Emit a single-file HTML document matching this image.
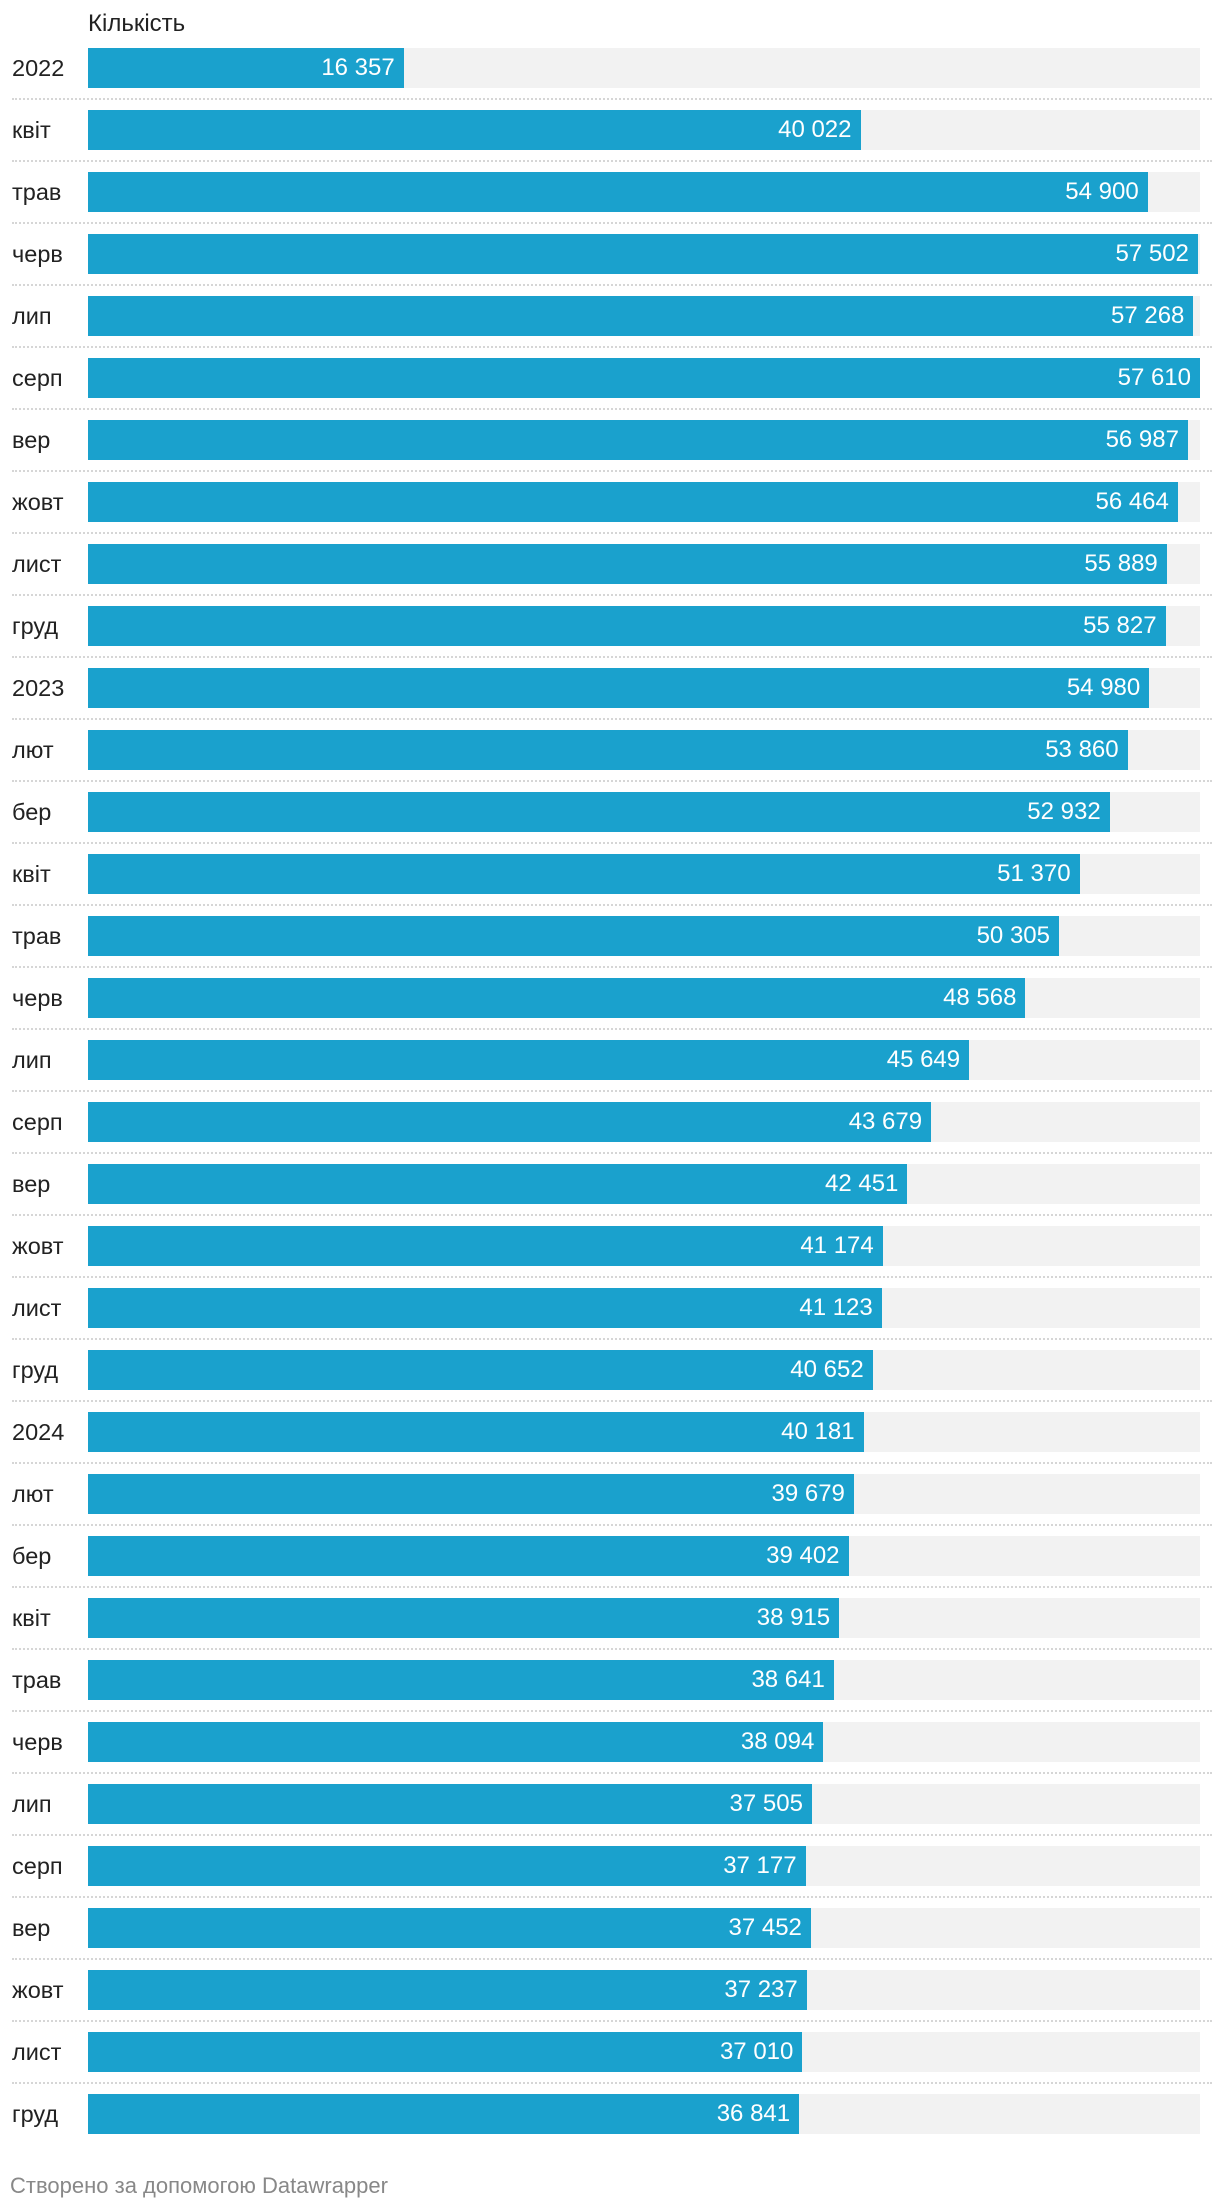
<!DOCTYPE html>
<html><head><meta charset="utf-8">
<style>
html,body{margin:0;padding:0;background:#fff;}
body{width:1220px;height:2210px;position:relative;overflow:hidden;font-family:"Liberation Sans","DejaVu Sans",sans-serif;}
.t{position:absolute;white-space:nowrap;}
</style></head>
<body>
<div class="t" style="left:88px;top:10px;font-size:24px;color:#222;">Кількість</div>
<div id="chart"></div>
<div class="t" style="left:10px;top:2173px;font-size:22px;color:#888;">Створено за допомогою Datawrapper</div>
<script>
const categories = ["2022","квіт","трав","черв","лип","серп","вер","жовт","лист","груд","2023","лют","бер","квіт","трав","черв","лип","серп","вер","жовт","лист","груд","2024","лют","бер","квіт","трав","черв","лип","серп","вер","жовт","лист","груд"];
const values = [16357,40022,54900,57502,57268,57610,56987,56464,55889,55827,54980,53860,52932,51370,50305,48568,45649,43679,42451,41174,41123,40652,40181,39679,39402,38915,38641,38094,37505,37177,37452,37237,37010,36841];
const labels = ["16 357","40 022","54 900","57 502","57 268","57 610","56 987","56 464","55 889","55 827","54 980","53 860","52 932","51 370","50 305","48 568","45 649","43 679","42 451","41 174","41 123","40 652","40 181","39 679","39 402","38 915","38 641","38 094","37 505","37 177","37 452","37 237","37 010","36 841"];

const X0 = 88, X1 = 1200, TOP = 48, PITCH = 62, BH = 40;
const maxV = Math.max(...values);
const xs = v => X0 + (v / maxV) * (X1 - X0);
const ys = i => TOP + i * PITCH;
const chart = document.getElementById('chart');
function mk(css){ const d=document.createElement('div'); d.style.cssText='position:absolute;'+css; chart.appendChild(d); return d; }
categories.forEach((c,i)=>{
  const y = ys(i);
  const bg = mk(`left:${X0}px;top:${y}px;width:${X1-X0}px;height:${BH}px;background:#f2f2f2;`);
  
  
  const b = mk(`left:${X0}px;top:${y}px;width:${xs(values[i])-X0}px;height:${BH}px;background:#1aa1cd;`);
  
  
  const l = mk(`left:12px;top:${y}px;height:${BH}px;line-height:${BH}px;font-size:23.5px;color:#222;white-space:nowrap;`);
  l.textContent = c;
  
  
  const v = mk(`left:${X0}px;width:${xs(values[i])-X0-9}px;top:${y}px;height:${BH}px;line-height:${BH}px;font-size:24px;color:#fff;text-align:right;white-space:nowrap;`);
  v.textContent = labels[i];
  
  
  if (i < categories.length-1) {
    const s = mk(`left:12px;top:${y+BH+10}px;width:1200px;height:0;border-top:2px dotted #d6d6d6;`);
    
    
  }
});
</script>
</body></html>
